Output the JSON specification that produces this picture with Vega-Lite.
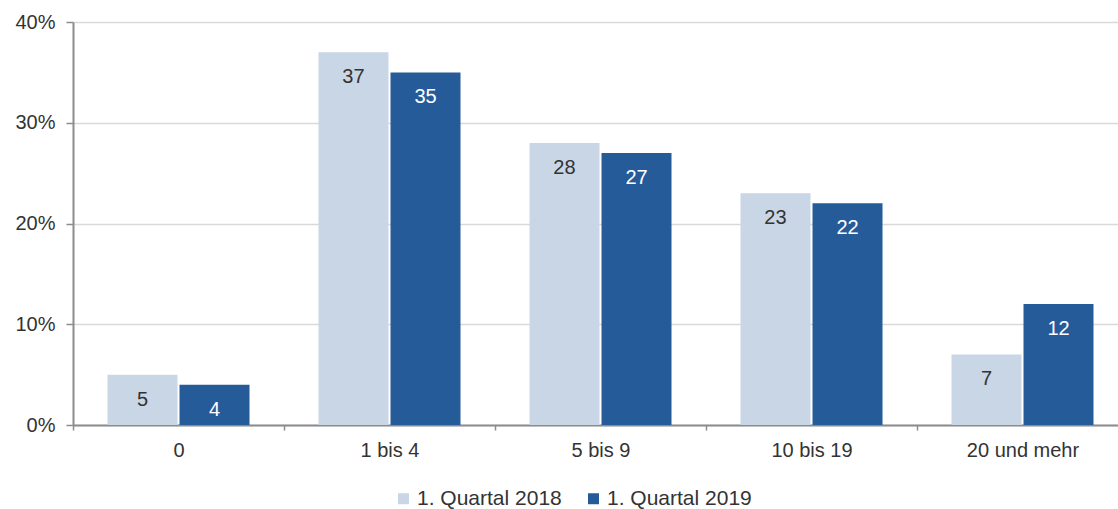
{
  "$schema": "https://vega.github.io/schema/vega-lite/v6.json",
  "width": 1055,
  "height": 403,
  "autosize": "none",
  "padding": {"left": 73, "top": 22, "right": 0, "bottom": 84},
  "background": "white",
  "config": {
    "font": "Liberation Sans",
    "view": {"stroke": null},
    "axis": {"labelFont": "Liberation Sans", "labelFontSize": 20, "labelColor": "#333333", "titleFont": "Liberation Sans"},
    "legend": {"labelFont": "Liberation Sans", "labelFontSize": 21, "labelColor": "#333333"}
  },
  "data": {
    "values": [
      {"kategorie": "0", "serie": "1. Quartal 2018", "wert": 5},
      {"kategorie": "0", "serie": "1. Quartal 2019", "wert": 4},
      {"kategorie": "1 bis 4", "serie": "1. Quartal 2018", "wert": 37},
      {"kategorie": "1 bis 4", "serie": "1. Quartal 2019", "wert": 35},
      {"kategorie": "5 bis 9", "serie": "1. Quartal 2018", "wert": 28},
      {"kategorie": "5 bis 9", "serie": "1. Quartal 2019", "wert": 27},
      {"kategorie": "10 bis 19", "serie": "1. Quartal 2018", "wert": 23},
      {"kategorie": "10 bis 19", "serie": "1. Quartal 2019", "wert": 22},
      {"kategorie": "20 und mehr", "serie": "1. Quartal 2018", "wert": 7},
      {"kategorie": "20 und mehr", "serie": "1. Quartal 2019", "wert": 12}
    ]
  },
  "encoding": {
    "x": {
      "field": "kategorie",
      "type": "nominal",
      "sort": null,
      "scale": {"paddingInner": 0, "paddingOuter": 0},
      "axis": {
        "title": null,
        "labelAngle": 0,
        "tickBand": "extent",
        "domainColor": "#8c8c8c",
        "domainWidth": 2,
        "tickColor": "#8c8c8c",
        "tickWidth": 1.5,
        "tickSize": 5,
        "labelPadding": 10,
        "grid": false
      }
    },
    "xOffset": {
      "field": "serie",
      "type": "nominal",
      "scale": {"paddingInner": 0.028, "paddingOuter": 0.479}
    },
    "y": {
      "field": "wert",
      "type": "quantitative",
      "scale": {"domain": [0, 40], "nice": false},
      "axis": {
        "title": null,
        "values": [0, 10, 20, 30, 40],
        "labelExpr": "datum.value + '%'",
        "domainColor": "#8c8c8c",
        "domainWidth": 2,
        "tickColor": "#8c8c8c",
        "tickWidth": 1.5,
        "tickSize": 7,
        "labelPadding": 11,
        "gridColor": "#d9d9d9",
        "gridWidth": 1.5
      }
    }
  },
  "layer": [
    {
      "mark": {"type": "bar"},
      "encoding": {
        "color": {
          "field": "serie",
          "type": "nominal",
          "scale": {"domain": ["1. Quartal 2018", "1. Quartal 2019"], "range": ["#c9d6e6", "#265b9a"]},
          "legend": {
            "title": null,
            "orient": "none",
            "direction": "horizontal",
            "legendX": 320,
            "legendY": 466,
            "symbolType": "square",
            "symbolSize": 121,
            "symbolStrokeWidth": 0,
            "labelOffset": 3,
            "columnPadding": 21
          }
        }
      }
    },
    {
      "mark": {"type": "text", "baseline": "middle", "align": "center", "dy": 25, "fontSize": 20, "font": "Liberation Sans"},
      "encoding": {
        "text": {"field": "wert", "type": "quantitative"},
        "color": {
          "field": "serie",
          "type": "nominal",
          "scale": {"domain": ["1. Quartal 2018", "1. Quartal 2019"], "range": ["#333333", "#ffffff"]},
          "legend": null
        }
      }
    }
  ],
  "resolve": {"scale": {"color": "independent"}}
}
